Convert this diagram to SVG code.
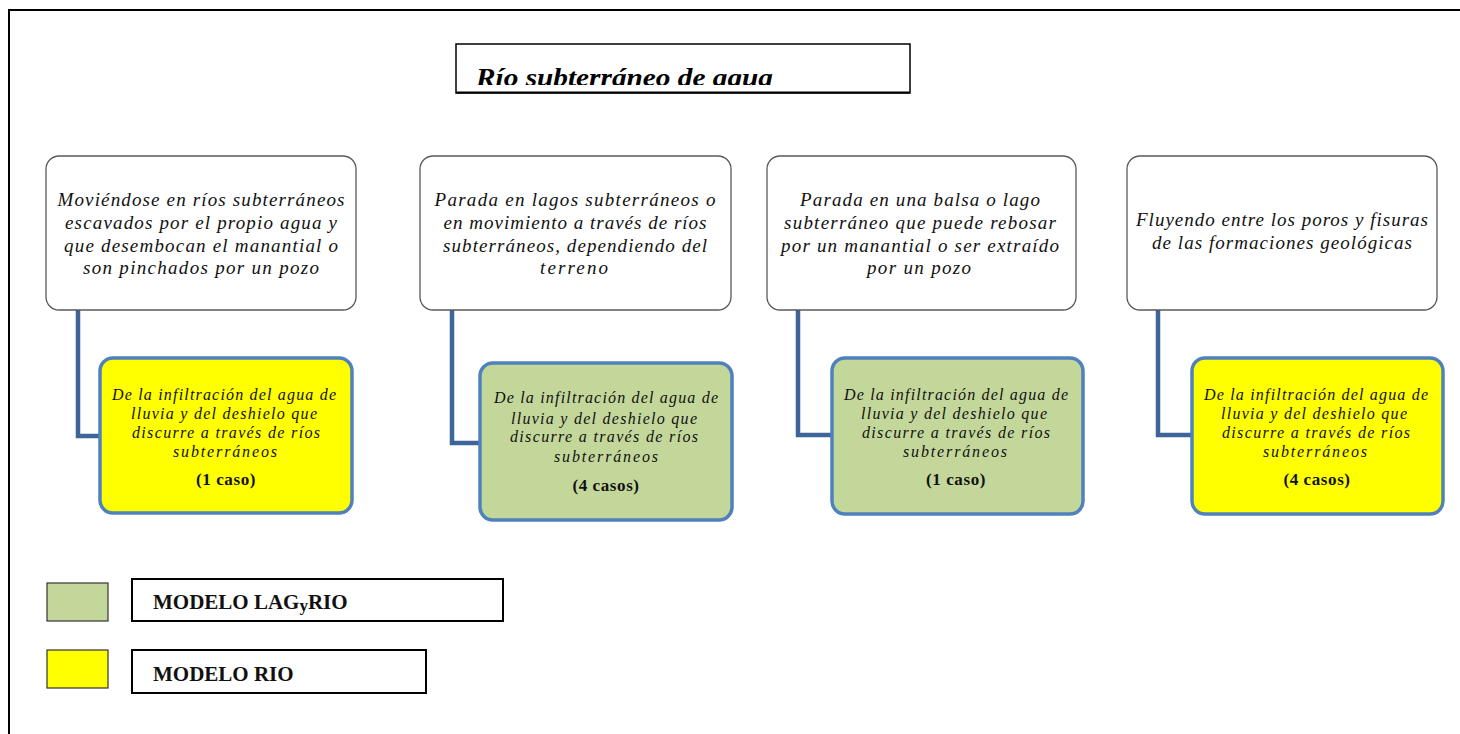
<svg xmlns="http://www.w3.org/2000/svg" width="1460" height="734" viewBox="0 0 1460 734">
<style>
.top{fill:#fff;stroke:#595959;stroke-width:1.3}
.bot{stroke:#4F81BD;stroke-width:3.5}
.y{fill:#FFFF00}
.g{fill:#C4D79B}
.tt{font-family:"Liberation Serif",serif;font-style:italic;font-size:19px;fill:#111;text-anchor:middle}
.bt{font-family:"Liberation Serif",serif;font-style:italic;font-size:16px;fill:#111;text-anchor:middle}
.cs{font-family:"Liberation Serif",serif;font-weight:bold;font-size:17px;fill:#111;text-anchor:middle;letter-spacing:0.6px}
.conn{fill:none;stroke:#3F6598;stroke-width:4.5}
.lg{font-family:"Liberation Serif",serif;font-weight:bold;font-size:21px;fill:#111}
</style>
<defs>
<clipPath id="titleclip"><rect x="457" y="45" width="452" height="40"/></clipPath>
</defs>
<rect width="1460" height="734" fill="#fff"/>
<g id="frame">
<path d="M9,734 V10 H1460" fill="none" stroke="#000" stroke-width="2"/>
</g>
<g id="title">
<rect x="456" y="44" width="454" height="49" fill="#fff" stroke="#000" stroke-width="1.5"/>
<line x1="456" y1="92.5" x2="910" y2="92.5" stroke="#000" stroke-width="2"/>
<text x="476" y="86" clip-path="url(#titleclip)" font-family="'Liberation Serif',serif" font-style="italic" font-weight="bold" font-size="25" fill="#000" textLength="297" lengthAdjust="spacingAndGlyphs">Río subterráneo de agua</text>
</g>
<g id="connectors">
<path class="conn" d="M78,310 V436 H100"/>
<path class="conn" d="M452,310 V443 H480"/>
<path class="conn" d="M798,310 V435 H832"/>
<path class="conn" d="M1158,310 V435 H1192"/>
</g>
<g id="top1">
<rect class="top" x="46" y="156" width="310" height="154" rx="13"/>
<text class="tt" x="201" y="206" textLength="287" lengthAdjust="spacing">Moviéndose en ríos subterráneos</text>
<text class="tt" x="201" y="229" textLength="272" lengthAdjust="spacing">escavados por el propio agua y</text>
<text class="tt" x="201" y="252" textLength="274" lengthAdjust="spacing">que desembocan el manantial o</text>
<text class="tt" x="201" y="274" textLength="236" lengthAdjust="spacing">son pinchados por un pozo</text>
</g>
<g id="top2">
<rect class="top" x="420" y="156" width="311" height="154" rx="13"/>
<text class="tt" x="575" y="206" textLength="281" lengthAdjust="spacing">Parada en lagos subterráneos o</text>
<text class="tt" x="575" y="229" textLength="263" lengthAdjust="spacing">en movimiento a través de ríos</text>
<text class="tt" x="575" y="252" textLength="264" lengthAdjust="spacing">subterráneos, dependiendo del</text>
<text class="tt" x="574" y="274" textLength="68" lengthAdjust="spacing">terreno</text>
</g>
<g id="top3">
<rect class="top" x="767" y="156" width="309" height="154" rx="13"/>
<text class="tt" x="920" y="206" textLength="240" lengthAdjust="spacing">Parada en una balsa o lago</text>
<text class="tt" x="920" y="229" textLength="272" lengthAdjust="spacing">subterráneo que puede rebosar</text>
<text class="tt" x="920" y="252" textLength="278" lengthAdjust="spacing">por un manantial o ser extraído</text>
<text class="tt" x="919" y="274" textLength="104" lengthAdjust="spacing">por un pozo</text>
</g>
<g id="top4">
<rect class="top" x="1127" y="156" width="310" height="154" rx="13"/>
<text class="tt" x="1282" y="226" textLength="292" lengthAdjust="spacing">Fluyendo entre los poros y fisuras</text>
<text class="tt" x="1282" y="249" textLength="260" lengthAdjust="spacing">de las formaciones geológicas</text>
</g>
<g id="bot1">
<rect class="bot y" x="100" y="358" width="252" height="155" rx="13"/>
<text class="bt" x="224" y="400" textLength="224" lengthAdjust="spacing">De la infiltración del agua de</text>
<text class="bt" x="224" y="419" textLength="186" lengthAdjust="spacing">lluvia y del deshielo que</text>
<text class="bt" x="226" y="438" textLength="188" lengthAdjust="spacing">discurre a través de ríos</text>
<text class="bt" x="225" y="457" textLength="104" lengthAdjust="spacing">subterráneos</text>
<text class="cs" x="226" y="485">(1 caso)</text>
</g>
<g id="bot2">
<rect class="bot g" x="480" y="363" width="252" height="157" rx="13"/>
<text class="bt" x="606" y="403" textLength="224" lengthAdjust="spacing">De la infiltración del agua de</text>
<text class="bt" x="604" y="424" textLength="186" lengthAdjust="spacing">lluvia y del deshielo que</text>
<text class="bt" x="604" y="442" textLength="188" lengthAdjust="spacing">discurre a través de ríos</text>
<text class="bt" x="606" y="462" textLength="104" lengthAdjust="spacing">subterráneos</text>
<text class="cs" x="606" y="491">(4 casos)</text>
</g>
<g id="bot3">
<rect class="bot g" x="832" y="358" width="251" height="156" rx="13"/>
<text class="bt" x="956" y="400" textLength="224" lengthAdjust="spacing">De la infiltración del agua de</text>
<text class="bt" x="954" y="419" textLength="186" lengthAdjust="spacing">lluvia y del deshielo que</text>
<text class="bt" x="956" y="438" textLength="188" lengthAdjust="spacing">discurre a través de ríos</text>
<text class="bt" x="955" y="457" textLength="104" lengthAdjust="spacing">subterráneos</text>
<text class="cs" x="956" y="485">(1 caso)</text>
</g>
<g id="bot4">
<rect class="bot y" x="1192" y="358" width="251" height="156" rx="13"/>
<text class="bt" x="1316" y="400" textLength="224" lengthAdjust="spacing">De la infiltración del agua de</text>
<text class="bt" x="1314" y="419" textLength="186" lengthAdjust="spacing">lluvia y del deshielo que</text>
<text class="bt" x="1316" y="438" textLength="188" lengthAdjust="spacing">discurre a través de ríos</text>
<text class="bt" x="1315" y="457" textLength="104" lengthAdjust="spacing">subterráneos</text>
<text class="cs" x="1317" y="485">(4 casos)</text>
</g>
<g id="legend-lagyrio">
<rect x="47" y="583" width="61" height="38" fill="#C4D79B" stroke="#333" stroke-width="1.2"/>
<rect x="132" y="579" width="371" height="42" fill="#fff" stroke="#000" stroke-width="2"/>
<text class="lg" x="153" y="609">MODELO LAG<tspan font-size="17" dy="2">y</tspan><tspan dy="-2">RIO</tspan></text>
</g>
<g id="legend-rio">
<rect x="47" y="650" width="61" height="38" fill="#FFFF00" stroke="#333" stroke-width="1.2"/>
<rect x="132" y="650" width="294" height="43" fill="#fff" stroke="#000" stroke-width="2"/>
<text class="lg" x="153" y="681">MODELO RIO</text>
</g>
</svg>
